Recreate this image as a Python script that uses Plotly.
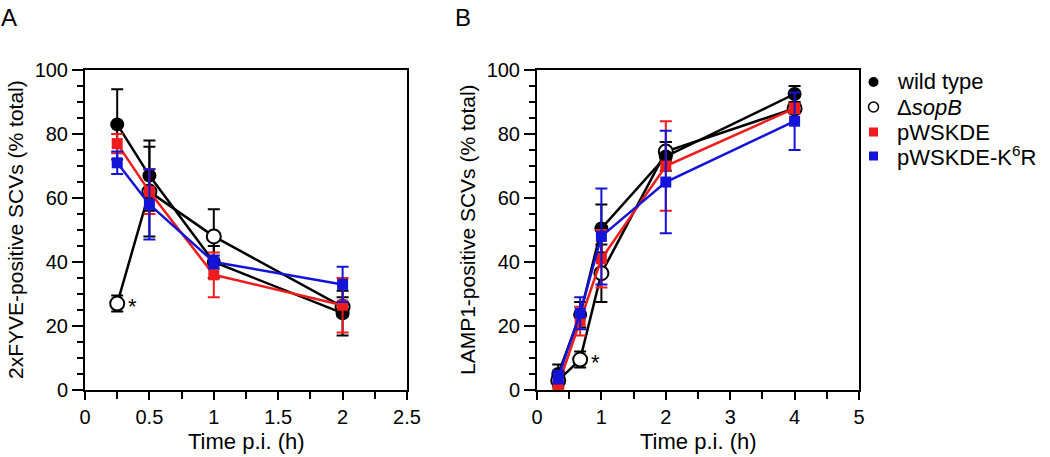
import plotly.graph_objects as go

# panel A: 2xFYVE
a_time = [0.25, 0.5, 1, 2]
a_wt = [83, 67, 40, 24]
a_wt_err = [11, 11, 5, 7]
a_sopb = [27, 62, 48, 26]
a_sopb_err = [2.5, 14, 8.5, 3]
a_pw = [77, 62, 36, 26.5]
a_pw_err = [3, 7, 7, 8.5]
a_k6r = [71, 58, 40, 33]
a_k6r_err = [3.5, 11, 2, 5.5]

# panel B: LAMP1
b_time = [0.33, 0.67, 1, 2, 4]
b_wt = [5, 23.5, 50.5, 73, 92.5]
b_wt_err = [3, 4, 7.5, 4.5, 2.5]
b_sopb = [3, 9.5, 36.5, 74.5, 88]
b_sopb_err = [2, 2.5, 9, 3, 1.5]
b_pw = [1.5, 21.5, 41, 70, 88]
b_pw_err = [1, 4.5, 9, 14, 1.5]
b_k6r = [4, 24, 48, 65, 84]
b_k6r_err = [2, 5, 15, 16, 9]

names = ["wild type", "\u0394<i>sopB</i>", "pWSKDE", "pWSKDE-K<sup>6</sup>R"]

BLACK = "#000000"
RED = "#ee1c1c"
BLUE = "#1414d8"

styles = [
    dict(color=BLACK, symbol="circle", fill=BLACK, size=14),
    dict(color=BLACK, symbol="circle", fill="white", size=14),
    dict(color=RED, symbol="square", fill=RED, size=11),
    dict(color=BLUE, symbol="square", fill=BLUE, size=11),
]

W, H = 1050, 457
font = "Liberation Sans, Arial, sans-serif"

fig = go.Figure()

def add_series(x, y, err, st, xa, ya):
    fig.add_trace(go.Scatter(
        x=x, y=y, mode="lines+markers", xaxis=xa, yaxis=ya, showlegend=False,
        line=dict(color=st["color"], width=2.5),
        marker=dict(symbol=st["symbol"], size=st["size"], color=st["fill"],
                    line=dict(color=st["color"], width=2 if st["fill"] == "white" else 0)),
        error_y=dict(type="data", array=err, color=st["color"], thickness=2, width=6),
    ))

a_data = [(a_wt, a_wt_err), (a_sopb, a_sopb_err), (a_pw, a_pw_err), (a_k6r, a_k6r_err)]
b_data = [(b_wt, b_wt_err), (b_sopb, b_sopb_err), (b_pw, b_pw_err), (b_k6r, b_k6r_err)]

# draw order: sopB, wild type, red, blue
for i in [1, 0, 2, 3]:
    add_series(a_time, a_data[i][0], a_data[i][1], styles[i], "x", "y")
    add_series(b_time, b_data[i][0], b_data[i][1], styles[i], "x2", "y2")

axis_common = dict(
    showline=True, linecolor="black", linewidth=2, mirror=True,
    ticks="outside", tickwidth=2, tickcolor="black",
    showgrid=False, zeroline=False, automargin=False,
    tickfont=dict(family=font, size=20, color="black"),
)
xminor = dict(ticks="outside", ticklen=7, tickwidth=2, tickcolor="black")
yminor = dict(ticks="outside", ticklen=6, tickwidth=2, tickcolor="black")

ydom = [1 - 390 / H, 1 - 70 / H]

def txt(text, x, y, angle=0, size=22, xanchor="center"):
    return dict(text=text, x=x / W, y=1 - y / H, xref="paper", yref="paper",
                showarrow=False, textangle=angle, xanchor=xanchor, yanchor="middle",
                font=dict(family=font, size=size, color="black"))

annotations = [
    txt("A", 9, 18, size=24),
    txt("B", 463, 18, size=24),
    txt("2xFYVE-positive SCVs (% total)", 16, 230, -90, size=21),
    txt("LAMP1-positive SCVs (% total)", 468, 230, -90, size=21),
    txt("Time p.i. (h)", 246, 441, size=22),
    txt("Time p.i. (h)", 698, 441, size=22),
    dict(text="*", x=a_time[0], y=a_sopb[0], xref="x", yref="y", xshift=15, yshift=-3,
         showarrow=False, font=dict(family=font, size=22, color="black")),
    dict(text="*", x=b_time[1], y=b_sopb[1], xref="x2", yref="y2", xshift=15, yshift=-3,
         showarrow=False, font=dict(family=font, size=22, color="black")),
]

# legend drawn by hand: glyph + label per row
shapes = []
legend_rows = [82, 107, 132, 156]
for name, st, ry in zip(names, styles, legend_rows):
    annotations.append(txt(name, 895, ry, size=22, xanchor="left"))
    r = 5 if st["symbol"] == "circle" else 4.5
    cx = 873.5
    shapes.append(dict(
        type="circle" if st["symbol"] == "circle" else "rect",
        xref="paper", yref="paper",
        x0=(cx - r) / W, x1=(cx + r) / W, y0=1 - (ry + r) / H, y1=1 - (ry - r) / H,
        fillcolor=st["fill"],
        line=dict(color=st["color"], width=1.5 if st["fill"] == "white" else 0),
    ))

fig.update_layout(
    width=W, height=H,
    margin=dict(l=0, r=0, t=0, b=0, autoexpand=False),
    paper_bgcolor="white", plot_bgcolor="white",
    font=dict(family=font, color="black"),
    showlegend=False,
    xaxis=dict(axis_common, domain=[85 / W, 407 / W], range=[0, 2.5], dtick=0.5,
               ticklen=8, minor=dict(xminor, dtick=0.25)),
    yaxis=dict(axis_common, domain=ydom, range=[0, 100], dtick=20, ticklen=11,
               minor=dict(yminor, dtick=5)),
    xaxis2=dict(axis_common, domain=[537 / W, 859 / W], range=[0, 5], dtick=1,
                ticklen=8, minor=dict(xminor, dtick=0.5), anchor="y2"),
    yaxis2=dict(axis_common, domain=ydom, range=[0, 100], dtick=20, ticklen=11,
                minor=dict(yminor, dtick=5), anchor="x2"),
    annotations=annotations,
    shapes=shapes,
)

fig.write_html("out.html", config={"displayModeBar": False},
               post_script="document.body.style.margin = '0px';")
